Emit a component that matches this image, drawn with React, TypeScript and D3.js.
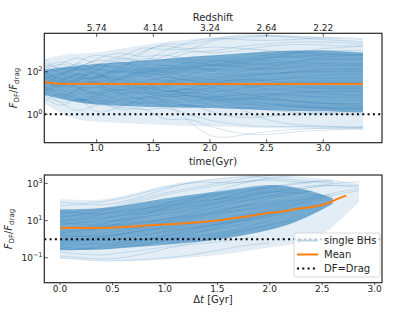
import * as d3 from 'd3';

// ---- top panel: F_DF / F_drag vs cosmic time (values are log10) ----
const TOP_T = [0.54, 0.7, 0.85, 1.0, 1.2, 1.4, 1.6, 1.8, 2.0, 2.25, 2.5, 2.75, 3.0, 3.2, 3.35];
const TOP_OUTER_HI = [2.6, 2.8, 2.85, 2.9, 3.05, 3.25, 3.4, 3.5, 3.6, 3.7, 3.75, 3.7, 3.6, 3.5, 3.45];
const TOP_OUTER_LO = [0.5, 0.0, -0.3, -0.35, -0.4, -0.45, -0.5, -0.55, -0.55, -0.6, -0.65, -0.65, -0.7, -0.7, -0.7];
const TOP_CORE_HI = [2.1, 2.2, 2.3, 2.35, 2.45, 2.5, 2.6, 2.7, 2.75, 2.85, 2.95, 3.0, 3.0, 2.95, 2.9];
const TOP_CORE_LO = [0.9, 0.7, 0.55, 0.45, 0.4, 0.35, 0.33, 0.3, 0.3, 0.25, 0.2, 0.15, 0.15, 0.1, 0.1];
const TOP_MEAN = [1.52, 1.43, 1.44, 1.43, 1.42, 1.42, 1.42, 1.42, 1.42, 1.42, 1.42, 1.42, 1.42, 1.42, 1.42];
const TOP_TRACKS: (number | null)[][] = [
  [1.8, 2.3, 1.6, 2.5, 2.0, 2.8, 2.4, 3.0, 2.9, 3.2, 3.3, 3.4, 3.4, 3.35, 3.3],
  [1.2, 0.6, 1.4, 0.8, 1.5, 1.0, 1.7, 1.3, 1.6, 1.4, 1.2, 1.1, 1.0, 0.9, 0.9],
  [2.4, 2.0, 2.6, 1.8, 2.9, 2.2, 3.2, 2.9, 3.5, 3.6, 3.7, 3.6, 3.5, 3.45, 3.4],
  [0.8, 0.2, 1.0, -0.2, 0.5, 0.1, 0.4, 0.0, -0.3, -0.5, -0.6, -0.55, -0.6, -0.6, -0.6],
  [1.5, 1.9, 1.2, 1.7, 1.1, 1.6, 1.3, 1.9, 2.1, 2.3, 2.4, 2.5, 2.6, 2.6, 2.6],
  [2.0, 1.4, 2.2, 1.3, 1.9, 1.0, 1.5, 0.7, 0.9, 0.6, 0.5, 0.4, 0.3, 0.3, 0.3],
  [1.0, 1.6, 0.9, 2.0, 1.4, 2.3, 1.8, 2.2, 2.5, 2.6, 2.8, 2.9, 3.0, 3.0, 3.0],
  [1.7, 1.1, 1.9, 1.5, 2.4, 1.9, 2.2, 1.6, 1.8, 1.7, 1.9, 2.0, 2.1, 2.1, 2.1],
  [1.3, 0.9, 0.4, 1.1, 0.6, 0.9, 0.2, 0.6, 0.1, -0.2, -0.1, 0.0, 0.1, 0.1, 0.1],
  [2.2, 2.6, 2.1, 2.7, 2.3, 3.0, 3.3, 3.0, 3.2, 3.1, 3.0, 2.9, 2.85, 2.8, 2.8],
  [1.6, 1.0, 1.8, 2.1, 1.2, 1.7, 0.9, 1.3, 1.0, 1.2, 1.4, 1.5, 1.5, 1.5, 1.5],
  [0.6, 1.2, 0.5, 0.9, 0.0, 0.5, -0.4, -0.1, -0.6, -0.9, -1.0, -0.8, -0.75, -0.7, -0.7],
  [1.9, 2.4, 2.8, 2.2, 2.6, 2.0, 2.4, 2.1, 2.3, 2.5, 2.7, 2.7, 2.8, 2.8, 2.8],
  [1.4, 1.7, 1.1, 1.4, 0.8, 1.2, 0.7, 1.0, 0.6, 0.8, 0.7, 0.6, 0.5, 0.45, 0.4],
  [2.6, 1.9, 2.5, 2.9, 2.5, 3.3, 2.9, 3.4, 3.6, 3.5, 3.45, 3.5, 3.6, 3.6, 3.55],
  [1.1, 1.5, 2.0, 1.6, 2.2, 1.7, 2.0, 2.4, 2.0, 1.8, 1.9, 2.0, 2.0, 2.0, 2.0],
  [0.9, 0.4, 0.9, 0.3, 0.8, 0.4, 0.7, 0.3, 0.5, 0.3, 0.2, 0.1, 0.0, 0.0, 0.0],
  [1.8, 1.4, 1.7, 1.2, 1.8, 1.4, 1.9, 1.5, 1.7, 1.5, 1.6, 1.7, 1.7, 1.7, 1.7],
  [2.1, 2.5, 1.9, 2.3, 2.8, 2.4, 2.7, 3.1, 2.8, 3.0, 3.2, 3.3, 3.25, 3.2, 3.2],
  [1.3, 0.7, 1.3, 1.7, 1.0, 0.6, 1.1, 0.5, 0.8, 0.9, 1.0, 0.9, 0.8, 0.8, 0.8],
  [1.6, 2.1, 1.5, 1.9, 1.5, 2.0, 1.4, 1.8, 1.2, 1.0, 0.8, 0.6, 0.5, 0.5, 0.5],
  [1.0, 0.5, 0.0, 0.6, 0.2, 0.8, 1.2, 0.9, 1.3, 1.5, 1.4, 1.3, 1.2, 1.2, 1.2],
  [2.3, 1.8, 2.2, 2.6, 3.0, 2.6, 2.9, 2.5, 2.6, 2.4, 2.3, 2.4, 2.4, 2.4, 2.4],
  [1.4, 1.9, 2.3, 1.9, 1.6, 2.1, 1.7, 2.1, 2.4, 2.2, 2.1, 2.2, 2.3, 2.3, 2.3],
  [null, null, null, null, null, 1.2, 0.6, -0.2, -1.2, -1.0, -0.8, -0.7, -0.65, -0.65, -0.65],
  [null, null, null, null, 2.0, 2.9, 3.4, 3.2, 3.5, 3.75, 3.7, 3.65, 3.6, 3.55, 3.5],
  [null, null, null, null, null, null, null, null, null, 0.3, -0.3, -0.5, -0.55, -0.6, -0.6],
  [1.7, 2.0, 1.3, 1.8, 2.2, 1.8, 2.3, 2.0, 2.2, 2.0, 2.2, 2.5, 2.7, 2.75, 2.8],
  [1.2, 1.6, 1.9, 1.4, 1.0, 1.4, 1.0, 1.2, 1.4, 1.7, 1.6, 1.4, 1.3, 1.3, 1.3],
  [2.0, 1.6, 1.2, 0.8, 1.3, 0.9, 0.6, 1.0, 0.7, 0.5, 0.4, 0.35, 0.3, 0.25, 0.25],
  [1.5, 1.2, 1.5, 2.3, 1.8, 2.3, 2.0, 2.6, 2.2, 2.4, 2.6, 2.9, 3.1, 3.15, 3.2],
  [1.1, 1.3, 0.7, 0.5, 0.9, 1.3, 0.8, 1.1, 0.9, 0.6, 0.9, 1.0, 1.1, 1.1, 1.1],
];
const TIME_TICKS = [1.0, 1.5, 2.0, 2.5, 3.0];
const REDSHIFT_LABELS = ['5.74', '4.14', '3.24', '2.64', '2.22'];
const TOP_Y_TICKS = [0, 2];

// ---- bottom panel: F_DF / F_drag vs time since formation (log10) ----
const BOT_DT = [0, 0.2, 0.4, 0.6, 0.8, 1.0, 1.2, 1.4, 1.6, 1.8, 2.0, 2.2, 2.4, 2.6, 2.85];
const BOT_OUTER_HI = [2.15, 2.1, 2.1, 2.3, 2.6, 2.9, 3.1, 3.2, 3.3, 3.4, 3.45, 3.4, 3.3, 3.2, 3.0];
const BOT_OUTER_LO = [-1.05, -1.1, -1.15, -1.2, -1.15, -1.1, -1.0, -0.9, -0.8, -0.6, -0.45, -0.3, -0.1, 0.6, 2.0];
const BOT_CORE_HI = [1.6, 1.62, 1.66, 1.8, 2.0, 2.2, 2.35, 2.5, 2.65, 2.8, 2.95, 2.85, 2.6, 2.2, null];
const BOT_CORE_LO = [-0.6, -0.58, -0.55, -0.48, -0.4, -0.3, -0.2, -0.1, 0.05, 0.25, 0.5, 0.8, 1.3, 1.9, null];
const MEAN_DT = [0, 0.3, 0.6, 0.9, 1.2, 1.5, 1.75, 2.0, 2.1, 2.25, 2.45, 2.55, 2.62, 2.73];
const BOT_MEAN = [0.61, 0.6, 0.66, 0.76, 0.86, 1.01, 1.2, 1.42, 1.47, 1.62, 1.78, 1.93, 2.1, 2.34];
const BOT_TRACKS: (number | null)[][] = [
  [1.2, 1.3, 1.5, 1.8, 2.1, 2.4, 2.6, 2.8, 3.0, 3.1, 3.3, 3.2, 3.1, 3.0, null],
  [0.2, 0.1, 0.3, 0.5, 0.6, 0.9, 1.2, 1.3, 1.6, 1.9, 2.2, 2.4, 2.6, null, null],
  [-0.5, -0.6, -0.4, -0.3, -0.1, 0.2, 0.4, 0.7, 0.9, 1.2, 1.4, 1.7, null, null, null],
  [1.8, 1.9, 1.8, 2.0, 2.3, 2.7, 3.0, 3.2, 3.3, 3.4, 3.3, null, null, null, null],
  [0.8, 0.9, 1.0, 1.0, 1.2, 1.4, 1.5, 1.8, 2.0, 2.3, 2.5, 2.7, 2.9, 2.9, 2.8],
  [-0.9, -1.0, -1.1, -1.0, -0.8, -0.5, -0.3, 0.0, 0.3, 0.5, 0.8, 1.0, null, null, null],
  [1.5, 1.4, 1.3, 1.5, 1.6, 1.9, 2.2, 2.3, 2.5, 2.7, 2.8, 2.9, 3.1, 3.2, null],
  [0.0, 0.2, 0.1, 0.3, 0.5, 0.6, 0.8, 0.9, 1.1, 1.3, 1.5, 1.8, 2.1, 2.4, 2.6],
  [0.5, 0.4, 0.6, 0.9, 1.3, 1.7, 2.0, 2.4, 2.8, 3.1, 3.3, 3.4, null, null, null],
  [-0.3, -0.2, -0.3, -0.1, 0.0, 0.1, 0.0, 0.2, 0.4, 0.7, 1.0, null, null, null, null],
  [1.0, 1.1, 1.3, 1.6, 1.6, 1.8, 1.9, 2.1, 2.2, 2.3, 2.5, 2.6, 2.8, 3.0, 3.1],
  [-0.7, -0.8, -0.9, -0.7, -0.6, -0.4, -0.3, -0.2, -0.1, 0.1, null, null, null, null, null],
  [0.3, 0.5, 0.8, 1.1, 1.4, 1.5, 1.7, 1.9, 2.1, 2.4, 2.6, 2.5, 2.4, 2.3, null],
  [1.4, 1.5, 1.6, 1.9, 2.2, 2.5, 2.7, 2.9, 3.1, 3.3, 3.45, null, null, null, null],
  [-0.2, -0.1, 0.1, 0.3, 0.5, 0.7, 1.0, 1.3, 1.5, 1.6, 1.8, 2.0, 2.2, 2.5, 2.7],
  [0.9, 0.8, 0.7, 0.8, 0.9, 1.1, 1.2, 1.4, 1.7, 1.8, 1.9, 2.1, 2.2, null, null],
  [-1.0, -1.1, -1.2, -1.15, -1.1, -1.0, -0.9, -0.7, -0.5, -0.3, -0.2, null, null, null, null],
  [2.0, 1.9, 2.0, 2.2, 2.5, 2.8, 3.0, 3.1, 3.0, 3.1, 3.2, 3.1, 3.0, null, null],
  [0.6, 0.7, 0.6, 0.7, 0.9, 1.0, 1.3, 1.6, 1.9, 2.1, 2.3, 2.6, 2.8, 2.9, 2.9],
  [-0.4, -0.5, -0.6, -0.4, -0.3, -0.1, 0.2, 0.5, 0.8, 1.1, 1.3, 1.6, 1.9, null, null],
  [1.1, 1.0, 1.1, 1.3, 1.5, 1.6, 1.8, 2.0, 2.3, 2.6, 2.8, 3.0, 3.1, 3.1, null],
  [-0.1, 0.0, -0.1, 0.0, 0.2, 0.4, 0.6, 0.7, 0.9, 1.0, 1.2, 1.5, null, null, null],
];
const DT_TICKS = [0, 0.5, 1.0, 1.5, 2.0, 2.5, 3.0];
const BOT_Y_TICKS = [-1, 1, 3];

const BLUE = '#1f77b4';
const ORANGE = '#ff7f0e';
const FONT = 'DejaVu Sans, sans-serif';

type PanelProps = {
  id: string;
  top: number;
  bottom: number;
  xDomain: [number, number];
  yDomain: [number, number];
  xs: number[];
  outerHi: (number | null)[];
  outerLo: (number | null)[];
  coreHi: (number | null)[];
  coreLo: (number | null)[];
  tracks: (number | null)[][];
  meanX: number[];
  mean: number[];
  xTicks: number[];
  yTicks: number[];
  inward: boolean;
};

const LEFT = 44.3;
const RIGHT = 382;

const Panel = (p: PanelProps) => {
  const x = d3.scaleLinear().domain(p.xDomain).range([LEFT, RIGHT]);
  const y = d3.scaleLog().domain([10 ** p.yDomain[0], 10 ** p.yDomain[1]]).range([p.bottom, p.top]);
  const idx = p.xs.map((_, i) => i);

  const band = (hi: (number | null)[], lo: (number | null)[]) =>
    d3.area<number>()
      .defined(i => hi[i] != null && lo[i] != null)
      .x(i => x(p.xs[i]))
      .y0(i => y(10 ** (lo[i] as number)))
      .y1(i => y(10 ** (hi[i] as number)))
      .curve(d3.curveBasis)(idx) || '';

  const track = (vals: (number | null)[]) =>
    d3.line<number>()
      .defined(i => vals[i] != null)
      .x(i => x(p.xs[i]))
      .y(i => y(10 ** (vals[i] as number)))
      .curve(d3.curveBasis)(idx) || '';

  const meanPath = d3.line<number>()
    .x((_, i) => x(p.meanX[i]))
    .y(d => y(10 ** d))
    .curve(d3.curveMonotoneX)(p.mean) || '';

  const tk = p.inward ? 3.5 : 2.5;
  const xTickLabelY = p.inward ? p.bottom + 8.5 : p.bottom + 9;

  return (
    <g>
      <defs>
        <clipPath id={p.id}>
          <rect x={LEFT} y={p.top} width={RIGHT - LEFT} height={p.bottom - p.top} />
        </clipPath>
      </defs>
      <g clipPath={`url(#${p.id})`}>
        <path d={band(p.outerHi, p.outerLo)} fill={BLUE} fillOpacity={0.13} />
        <path d={band(p.coreHi, p.coreLo)} fill={BLUE} fillOpacity={0.58} />
        {p.tracks.map((t, i) => (
          <path key={i} d={track(t)} fill="none" stroke={BLUE} strokeOpacity={0.3} strokeWidth={0.6} />
        ))}
        {p.tracks.map((t, i) => (
          <path key={`w${i}`} d={track(t.map(v => (v == null ? null : v - 0.35)))} fill="none" stroke="#fff" strokeOpacity={0.12} strokeWidth={0.6} />
        ))}
        <line x1={LEFT} x2={RIGHT} y1={y(1)} y2={y(1)} stroke="#000" strokeWidth={2} strokeDasharray="2,3.3" />
        <path d={meanPath} fill="none" stroke={ORANGE} strokeWidth={2} />
      </g>
      {/* x ticks */}
      {p.xTicks.map(t => (
        <g key={t}>
          <line x1={x(t)} x2={x(t)} y1={p.bottom} y2={p.inward ? p.bottom - tk : p.bottom + tk} stroke="#333" strokeWidth={0.8} />
          <text x={x(t)} y={xTickLabelY} textAnchor="middle" fontSize={9} fill="#262626" fontFamily={FONT}>
            {t.toFixed(1)}
          </text>
        </g>
      ))}
      {/* y ticks */}
      {p.yTicks.map(e => (
        <g key={e}>
          <line x1={LEFT} x2={LEFT + 3.5} y1={y(10 ** e)} y2={y(10 ** e)} stroke="#333" strokeWidth={0.8} />
          <text x={42.5} y={y(10 ** e) + 3.5} textAnchor="end" fontSize={9} fill="#262626" fontFamily={FONT}>
            10<tspan dy={-4} fontSize={6.5}>{e < 0 ? `\u2212${-e}` : e}</tspan>
          </text>
        </g>
      ))}
      <rect x={LEFT} y={p.top} width={RIGHT - LEFT} height={p.bottom - p.top} fill="none" stroke="#262626" strokeWidth={1.2} />
    </g>
  );
};

const YLabel = ({ cx, cy }: { cx: number; cy: number }) => (
  <text transform={`translate(${cx},${cy}) rotate(-90)`} textAnchor="middle" fontSize={10} fill="#262626" fontFamily={FONT}>
    <tspan fontStyle="italic">F</tspan>
    <tspan fontSize={7} dy={2}>DF</tspan>
    <tspan dy={-2}>/</tspan>
    <tspan fontStyle="italic">F</tspan>
    <tspan fontSize={7} dy={2}>drag</tspan>
  </text>
);

export default function App() {
  const topX = d3.scaleLinear().domain([0.538, 3.518]).range([LEFT, RIGHT]);
  return (
    <svg width={407} height={317} style={{ position: 'absolute', left: 0, top: 0 }} fontFamily={FONT}>
      <rect width={407} height={317} fill="#fff" />
      <Panel
        id="clipTop" top={33.3} bottom={142.7}
        xDomain={[0.538, 3.518]} yDomain={[-1.33, 3.8]}
        xs={TOP_T} outerHi={TOP_OUTER_HI} outerLo={TOP_OUTER_LO}
        coreHi={TOP_CORE_HI} coreLo={TOP_CORE_LO} tracks={TOP_TRACKS}
        meanX={TOP_T} mean={TOP_MEAN}
        xTicks={TIME_TICKS} yTicks={TOP_Y_TICKS} inward={true}
      />
      {/* redshift axis on top */}
      {TIME_TICKS.map((t, i) => (
        <g key={t}>
          <line x1={topX(t)} x2={topX(t)} y1={33.3} y2={36.8} stroke="#333" strokeWidth={0.8} />
          <text x={topX(t)} y={30.5} textAnchor="middle" fontSize={9} fill="#262626">{REDSHIFT_LABELS[i]}</text>
        </g>
      ))}
      <text x={213} y={20.5} textAnchor="middle" fontSize={10} fill="#262626">Redshift</text>
      <text x={213} y={164.5} textAnchor="middle" fontSize={10} fill="#262626">time(Gyr)</text>
      <YLabel cx={17} cy={88} />

      <Panel
        id="clipBot" top={175} bottom={282.7}
        xDomain={[-0.15, 3.07]} yDomain={[-2.34, 3.45]}
        xs={BOT_DT} outerHi={BOT_OUTER_HI} outerLo={BOT_OUTER_LO}
        coreHi={BOT_CORE_HI} coreLo={BOT_CORE_LO} tracks={BOT_TRACKS}
        meanX={MEAN_DT} mean={BOT_MEAN}
        xTicks={DT_TICKS} yTicks={BOT_Y_TICKS} inward={false}
      />
      <text x={213} y={303} textAnchor="middle" fontSize={10} fill="#262626">
        <tspan>Δ</tspan><tspan fontStyle="italic">t</tspan><tspan> [Gyr]</tspan>
      </text>
      <YLabel cx={12} cy={229} />

      {/* legend */}
      <g fontSize={10} fill="#262626">
        <rect x={294} y={233} width={86} height={44} rx={2} fill="#fff" fillOpacity={0.8} stroke="#d0d0d0" strokeWidth={0.8} />
        <line x1={297} x2={318} y1={240.5} y2={240.5} stroke={BLUE} strokeOpacity={0.3} strokeWidth={2} />
        <text x={324} y={244}>single BHs</text>
        <line x1={297} x2={318} y1={254.5} y2={254.5} stroke={ORANGE} strokeWidth={2} />
        <text x={324} y={258}>Mean</text>
        <line x1={297} x2={318} y1={268.5} y2={268.5} stroke="#000" strokeWidth={2} strokeDasharray="2,3.3" />
        <text x={324} y={272}>DF=Drag</text>
      </g>
    </svg>
  );
}
